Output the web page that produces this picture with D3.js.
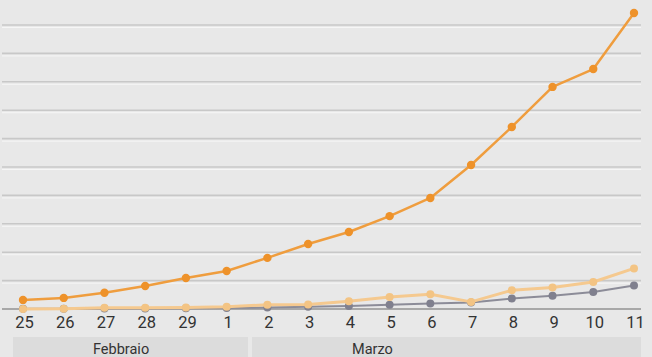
<!DOCTYPE html>
<html><head><meta charset="utf-8">
<script src="https://cdn.jsdelivr.net/npm/d3@7"></script>
<style>
html,body{margin:0;padding:0;background:#e8e8e8;}
svg{display:block;}
</style></head>
<body>
<script>
const days = ["25","26","27","28","29","1","2","3","4","5","6","7","8","9","10","11"];
const months = ["Febbraio","Marzo"];
const mainSeries = [320,390,570,810,1090,1340,1800,2290,2710,3270,3910,5070,6410,7820,8450,10420];
const lightSeries = [0,10,45,46,50,83,149,160,276,420,520,250,660,760,950,1430];
const graySeries = [10,12,17,21,29,34,52,79,107,148,197,233,366,463,600,827];
const yTicks = [0,1000,2000,3000,4000,5000,6000,7000,8000,9000,10000];

const W = 652, H = 357;
const svg = d3.select("body").append("svg").attr("width", W).attr("height", H);
svg.append("rect").attr("width", W).attr("height", H).attr("fill", "#e8e8e8");

const x = d3.scalePoint().domain(days).range([23, 634]);
const y = d3.scaleLinear().domain([0, 10000]).range([309, 25]);

// gridlines
const grid = svg.append("g");
yTicks.filter(t => t > 0).forEach(t => {
  grid.append("line").attr("x1", 2).attr("x2", 641).attr("y1", y(t)).attr("y2", y(t))
    .attr("stroke", "#c8c8c8").attr("stroke-width", 1.6);
  grid.append("line").attr("x1", 2).attr("x2", 641).attr("y1", y(t) + 2.5).attr("y2", y(t) + 2.5)
    .attr("stroke", "#f6f6f6").attr("stroke-width", 1);
});
grid.append("line").attr("x1", 2).attr("x2", 641).attr("y1", y(0)).attr("y2", y(0))
  .attr("stroke", "#a8a8a8").attr("stroke-width", 2);

// x axis labels
const xAxis = d3.axisBottom(x).tickSize(0).tickPadding(0);
const ax = svg.append("g").attr("transform", "translate(1,316)").call(xAxis);
ax.select(".domain").remove();
ax.selectAll("text").attr("font-family", "Roboto, 'Open Sans', sans-serif")
  .attr("font-size", 16.5).attr("fill", "#333").attr("dy", "0.71em");

// month boxes
const monthRanges = [[13, 248], [252, 641]];
const monthText = [93, 352];
months.forEach((m, i) => {
  svg.append("rect").attr("x", monthRanges[i][0]).attr("y", 337)
    .attr("width", monthRanges[i][1] - monthRanges[i][0]).attr("height", 20)
    .attr("fill", "#dcdcdc");
  svg.append("text").attr("x", monthText[i]).attr("y", 354)
    .attr("font-family", "Roboto, 'Open Sans', sans-serif").attr("font-size", 14.5)
    .attr("fill", "#333").text(m);
});

const line = d3.line().x((d, i) => x(days[i])).y(d => y(d));
function drawSeries(data, lineColor, lineW, markColor, r) {
  const g = svg.append("g");
  g.append("path").datum(data).attr("d", line).attr("fill", "none")
    .attr("stroke", lineColor).attr("stroke-width", lineW).attr("stroke-linejoin", "round");
  g.selectAll("circle").data(data).join("circle")
    .attr("cx", (d, i) => x(days[i])).attr("cy", d => y(d)).attr("r", r)
    .attr("fill", markColor);
}
drawSeries(graySeries, "#8c8c98", 2, "#80808e", 4);
drawSeries(lightSeries, "#f5c98f", 3, "#f3c484", 4);
drawSeries(mainSeries, "#ef9d3e", 2.5, "#ee922a", 4.2);
</script>
</body></html>
